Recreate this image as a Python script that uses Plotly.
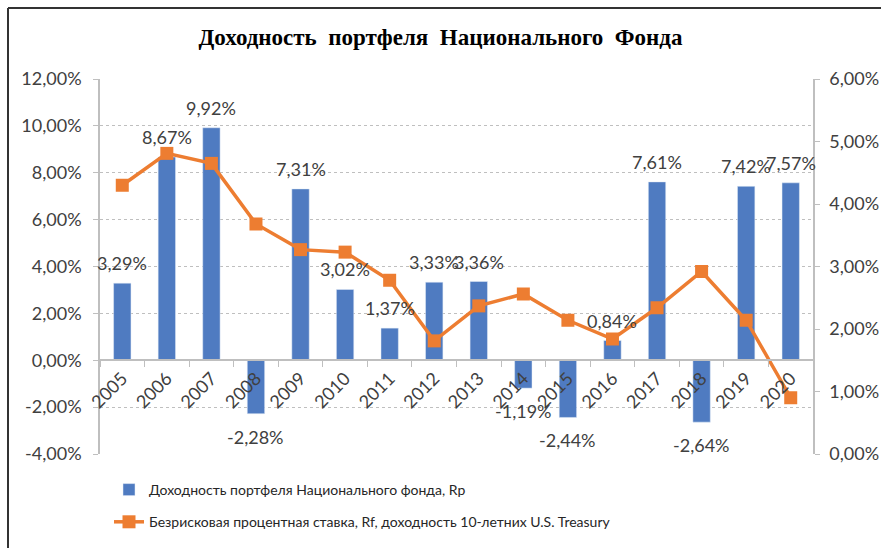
import plotly.graph_objects as go

years = [str(y) for y in range(2005, 2021)]
rp = [3.29, 8.67, 9.92, -2.28, 7.31, 3.02, 1.37, 3.33, 3.36, -1.19, -2.44, 0.84, 7.61, -2.64, 7.42, 7.57]
rf = [4.30, 4.81, 4.65, 3.68, 3.27, 3.23, 2.78, 1.81, 2.37, 2.56, 2.14, 1.84, 2.34, 2.92, 2.14, 0.90]
rp_labels = [f"{v:.2f}%".replace(".", ",") for v in rp]
left_ticks = [-4, -2, 0, 2, 4, 6, 8, 10, 12]
right_ticks = [0, 1, 2, 3, 4, 5, 6]

W, H = 881, 548
L, R, T, B = 100, 68, 79, 94
pw, ph = W - L - R, H - T - B

def px(x):
    return (x - L) / pw

def py(y):
    return (H - B - y) / ph

FONT = "Lato, 'Open Sans', sans-serif"
TXT = "#404040"

fig = go.Figure()
fig.add_trace(go.Bar(
    x=years, y=rp, name="Доходность портфеля Национального фонда, Rp",
    marker=dict(color="#4F7BC1"), width=0.39, legendgroup="rp",
))
fig.add_trace(go.Scatter(
    x=years, y=rf, yaxis="y2", mode="lines+markers",
    name="Безрисковая процентная ставка, Rf, доходность 10-летних U.S. Treasury",
    line=dict(color="#ED7D31", width=3.5),
    marker=dict(symbol="square", size=13, color="#ED7D31"),
    cliponaxis=False, legendgroup="rf",
))

annotations = []
for i, (v, lab) in enumerate(zip(rp, rp_labels)):
    annotations.append(dict(
        x=i, y=v, xref="x", yref="y", text=lab, showarrow=False,
        yshift=20 if v >= 0 else -23, yanchor="middle", xanchor="center",
        font=dict(size=18, color=TXT, family=FONT),
    ))

fig.update_layout(
    width=W, height=H, margin=dict(l=L, r=R, t=T, b=B, autoexpand=False),
    paper_bgcolor="white", plot_bgcolor="white",
    font=dict(family=FONT, color=TXT, size=18),
    title=dict(text="<b>Доходность  портфеля  Национального  Фонда</b>",
               x=0.5, xanchor="center", y=1 - 37 / H, yanchor="middle",
               font=dict(family="'Liberation Serif', 'Times New Roman', serif", size=23, color="black")),
    showlegend=True,
    legend=dict(x=px(109), y=py(474), xanchor="left", yanchor="top",
                font=dict(size=14, color="#262626", family=FONT),
                tracegroupgap=11, itemwidth=30, bgcolor="rgba(0,0,0,0)"),
    xaxis=dict(type="category", categoryorder="array", categoryarray=years,
               range=[-0.5, len(years) - 0.5], automargin=False,
               anchor="free", position=4 / 16,
               tickangle=-45, tickson="boundaries", ticks="outside", ticklen=6,
               tickcolor="#BFBFBF", showline=True, linecolor="#BFBFBF", linewidth=1.5,
               showgrid=False, tickfont=dict(size=18, color=TXT)),
    yaxis=dict(range=[-4, 12], tickvals=left_ticks, automargin=False,
               ticktext=[f"{v:.2f}%".replace(".", ",") for v in left_ticks],
               showgrid=True, gridcolor="#BFBFBF", griddash="dot", gridwidth=1,
               showline=True, linecolor="#BFBFBF", linewidth=1.5,
               ticks="outside", ticklen=5, tickcolor="#BFBFBF", ticklabelstandoff=8,
               zeroline=False, tickfont=dict(size=18, color=TXT)),
    yaxis2=dict(range=[0, 6], tickvals=right_ticks, overlaying="y", side="right",
                automargin=False,
                ticktext=[f"{v:.2f}%".replace(".", ",") for v in right_ticks],
                showgrid=False, showline=True, linecolor="#BFBFBF", linewidth=1.5,
                ticks="outside", ticklen=5, tickcolor="#BFBFBF", ticklabelstandoff=6,
                zeroline=False, tickfont=dict(size=18, color=TXT)),
    annotations=annotations,
    shapes=[
        dict(type="line", xref="paper", yref="paper", x0=px(8), x1=px(881), y0=py(8), y1=py(8),
             line=dict(color="#333333", width=2)),
        dict(type="line", xref="paper", yref="paper", x0=px(8), x1=px(8), y0=py(8), y1=py(548),
             line=dict(color="#333333", width=2)),
    ],
    bargap=0.61,
)

fig.write_html("out.html", config={"displayModeBar": False},
               post_script="document.body.style.margin='0';document.body.style.padding='0';")
